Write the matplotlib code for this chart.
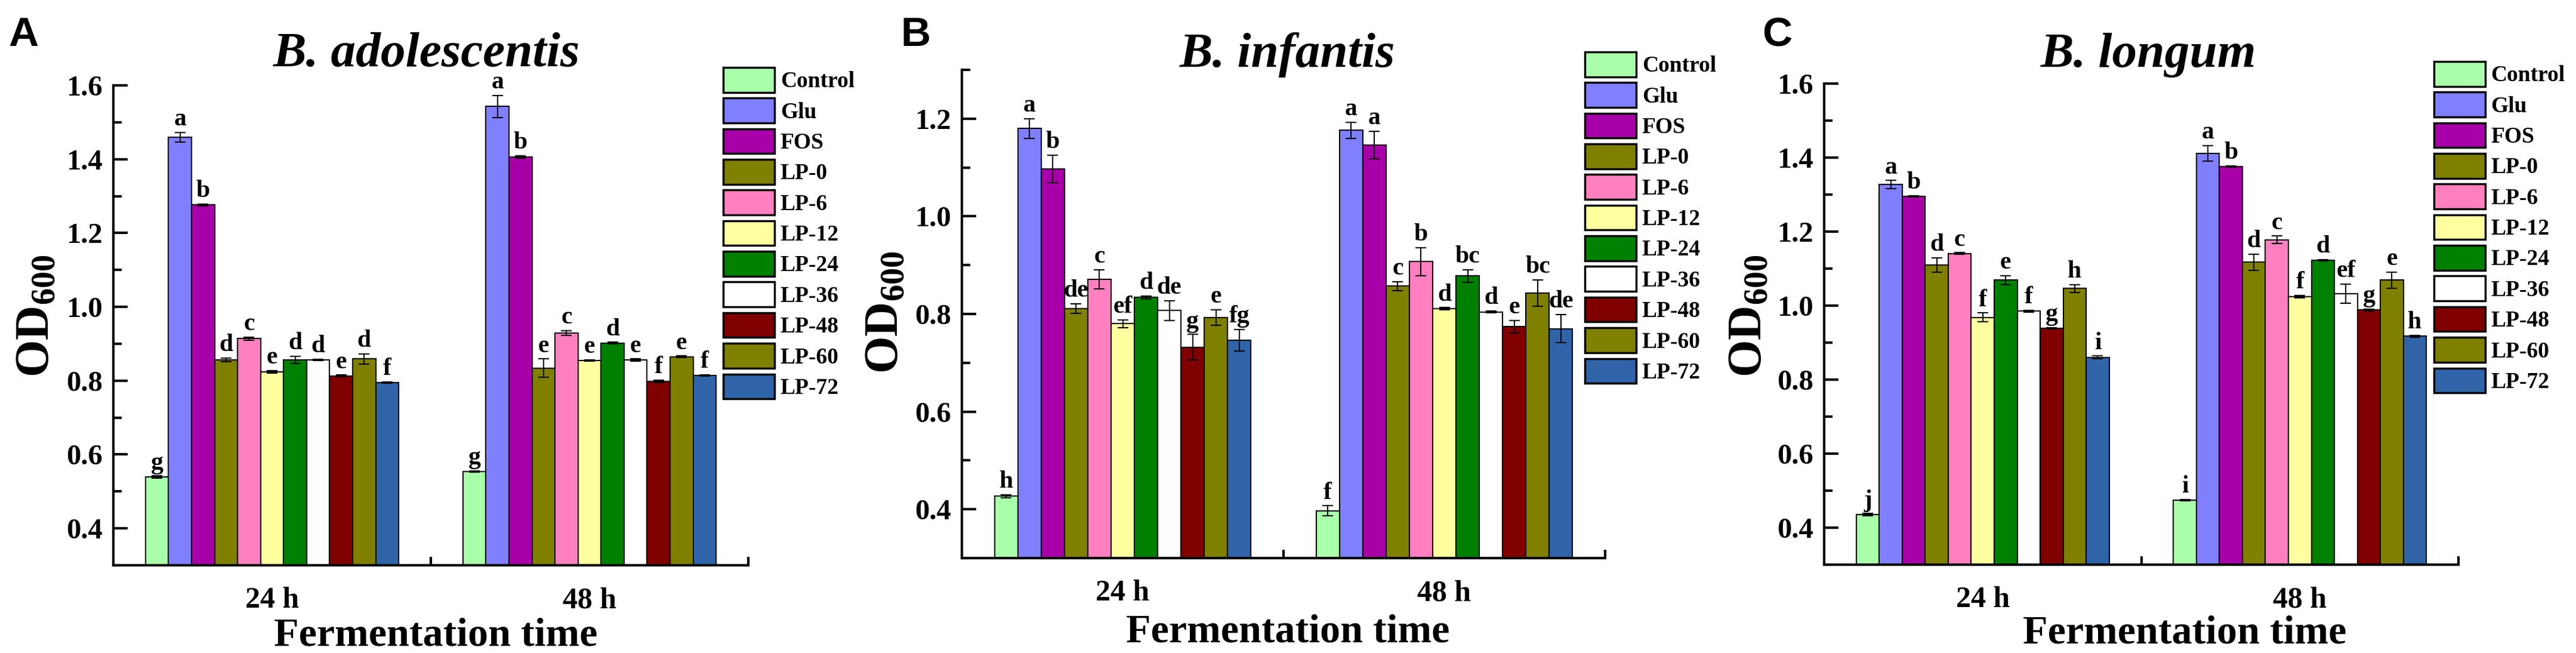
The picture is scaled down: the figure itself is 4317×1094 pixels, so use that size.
import matplotlib.pyplot as plt
from matplotlib.patches import Patch
from matplotlib.ticker import MultipleLocator, FixedLocator
import numpy as np

plt.rcParams['font.family'] = ['Liberation Serif', 'DejaVu Serif']
plt.rcParams['font.weight'] = 'bold'
plt.rcParams['mathtext.default'] = 'regular'

# grupy i kolory
treatments = ['Control', 'Glu', 'FOS', 'LP-0', 'LP-6', 'LP-12',
              'LP-24', 'LP-36', 'LP-48', 'LP-60', 'LP-72']
colors = ['#aaffaa', '#8080ff', '#a800a8', '#808000', '#ff80c0', '#ffffa0',
          '#008000', '#ffffff', '#800000', '#808000', '#2f65a8']
times = ['24 h', '48 h']

# B. adolescentis
ado_24 = [0.539, 1.460, 1.276, 0.856, 0.914, 0.824, 0.856, 0.856, 0.813, 0.859, 0.795]
ado_48 = [0.554, 1.543, 1.406, 0.834, 0.929, 0.855, 0.902, 0.856, 0.798, 0.865, 0.814]
ado_24_err = [0.003, 0.013, 0.003, 0.005, 0.004, 0.003, 0.010, 0.002, 0.002, 0.014, 0.002]
ado_48_err = [0.002, 0.030, 0.003, 0.025, 0.006, 0.002, 0.002, 0.003, 0.003, 0.002, 0.002]
ado_24_sig = ['g', 'a', 'b', 'd', 'c', 'e', 'd', 'd', 'e', 'd', 'f']
ado_48_sig = ['g', 'a', 'b', 'e', 'c', 'e', 'd', 'e', 'f', 'e', 'f']

# B. infantis
inf_24 = [0.427, 1.180, 1.097, 0.811, 0.871, 0.780, 0.834, 0.807, 0.732, 0.793, 0.746]
inf_48 = [0.397, 1.176, 1.146, 0.857, 0.907, 0.811, 0.878, 0.804, 0.774, 0.843, 0.770]
inf_24_err = [0.003, 0.020, 0.028, 0.010, 0.020, 0.008, 0.003, 0.020, 0.026, 0.016, 0.022]
inf_48_err = [0.010, 0.017, 0.028, 0.009, 0.029, 0.002, 0.013, 0.002, 0.013, 0.027, 0.029]
inf_24_sig = ['h', 'a', 'b', 'de', 'c', 'ef', 'd', 'de', 'g', 'e', 'fg']
inf_48_sig = ['f', 'a', 'a', 'c', 'b', 'd', 'bc', 'd', 'e', 'bc', 'de']

# B. longum
lon_24 = [0.435, 1.327, 1.295, 1.110, 1.141, 0.968, 1.069, 0.985, 0.939, 1.046, 0.860]
lon_48 = [0.474, 1.412, 1.376, 1.117, 1.178, 1.024, 1.123, 1.032, 0.988, 1.069, 0.917]
lon_24_err = [0.003, 0.011, 0.002, 0.019, 0.002, 0.012, 0.012, 0.002, 0.002, 0.011, 0.004]
lon_48_err = [0.002, 0.021, 0.002, 0.022, 0.010, 0.003, 0.002, 0.026, 0.003, 0.022, 0.002]
lon_24_sig = ['j', 'a', 'b', 'd', 'c', 'f', 'e', 'f', 'g', 'h', 'i']
lon_48_sig = ['i', 'a', 'b', 'd', 'c', 'f', 'd', 'ef', 'g', 'e', 'h']

W, H = 4317, 1094


def fx(x):
    return x / W


def fy(y):
    return 1 - y / H


fig = plt.figure(figsize=(W / 100, H / 100), dpi=100)

panels = [
    dict(letter='A', title='B. adolescentis', box=(190, 143, 1254, 947), ylim=(0.3, 1.6),
         data=[(ado_24, ado_24_err, ado_24_sig), (ado_48, ado_48_err, ado_48_sig)],
         title_x=715, ylab=(62, 529), letter_x=14, xlab=(730, 1082), leg=(1212, 113)),
    dict(letter='B', title='B. infantis', box=(1612, 117, 2690, 935), ylim=(0.3, 1.3),
         data=[(inf_24, inf_24_err, inf_24_sig), (inf_48, inf_48_err, inf_48_sig)],
         title_x=2158, ylab=(1485, 523), letter_x=1509, xlab=(2158, 1075), leg=(2656, 87)),
    dict(letter='C', title='B. longum', box=(3057, 140, 4120, 946), ylim=(0.3, 1.6),
         data=[(lon_24, lon_24_err, lon_24_sig), (lon_48, lon_48_err, lon_48_sig)],
         title_x=3601, ylab=(2932, 529), letter_x=2953, xlab=(3661, 1078), leg=(4079, 103)),
]

n = len(treatments)
bw = 0.0725

for p in panels:
    l, t, r, b = p['box']
    ax = fig.add_axes([fx(l), fy(b), (r - l) / W, (b - t) / H])
    for g, (vals, errs, sigs) in enumerate(p['data']):
        xs = g + 0.5 + (np.arange(n) - (n - 1) / 2) * bw
        ax.bar(xs, vals, width=bw, color=colors, edgecolor='black', linewidth=1.5)
        ax.errorbar(xs, vals, yerr=errs, fmt='none', ecolor='black',
                    elinewidth=1.5, capsize=6.5, capthick=1.5)
        for x, v, e, s in zip(xs, vals, errs, sigs):
            ax.annotate(s, (x, v + e), xytext=(0, 2), textcoords='offset points',
                        ha='center', va='bottom', fontsize=30, fontweight='bold')

    ax.set_xlim(0, 2)
    ax.set_ylim(*p['ylim'])
    ax.spines['top'].set_visible(False)
    ax.spines['right'].set_visible(False)
    for s in ['left', 'bottom']:
        ax.spines[s].set_linewidth(3)
    ax.set_xticks([0.5, 1.5])
    ax.set_xticklabels(times)
    ax.xaxis.set_minor_locator(FixedLocator([1, 2]))
    ax.tick_params(axis='x', which='major', length=0, pad=26, labelsize=36)
    ax.tick_params(axis='x', which='minor', direction='in', length=10, width=3)
    ax.yaxis.set_major_locator(MultipleLocator(0.2))
    ax.yaxis.set_minor_locator(MultipleLocator(0.1))
    ax.yaxis.set_major_formatter(plt.FuncFormatter(lambda v, pos: f'{v:.1f}'))
    ax.tick_params(axis='y', which='major', direction='in', length=17, width=3,
                   pad=13, labelsize=35)
    ax.tick_params(axis='y', which='minor', direction='in', length=10, width=3)
    ticks = [tk for tk in ax.get_yticks() if p['ylim'][0] + 0.05 < tk <= p['ylim'][1] + 1e-6]
    ax.set_yticks(ticks)

    fig.text(fx(p['title_x']), fy(92), p['title'], ha='center', va='center',
             fontsize=60, fontweight='bold', fontstyle='italic')
    fig.text(fx(p['ylab'][0]), fy(p['ylab'][1]), 'OD$_{600}$', rotation=90,
             ha='center', va='center', fontsize=58, fontweight='bold')
    fig.text(fx(p['xlab'][0]), fy(p['xlab'][1]), 'Fermentation time', ha='center',
             va='baseline', fontsize=49, fontweight='bold')
    fig.text(fx(p['letter_x']), fy(77), p['letter'], ha='left', va='baseline',
             fontsize=50, fontweight='bold', family=['Liberation Sans', 'DejaVu Sans'])

    handles = [Patch(facecolor=c, edgecolor='black', linewidth=2.5) for c in colors]
    fig.legend(handles, treatments, loc='upper left',
               bbox_to_anchor=(fx(p['leg'][0]), fy(p['leg'][1])),
               bbox_transform=fig.transFigure, frameon=False,
               handlelength=2.3, handleheight=1.33, handletextpad=0.25,
               labelspacing=0.26, borderpad=0, borderaxespad=0,
               prop={'weight': 'bold', 'size': 27})

fig.savefig('out.png', dpi=100)
